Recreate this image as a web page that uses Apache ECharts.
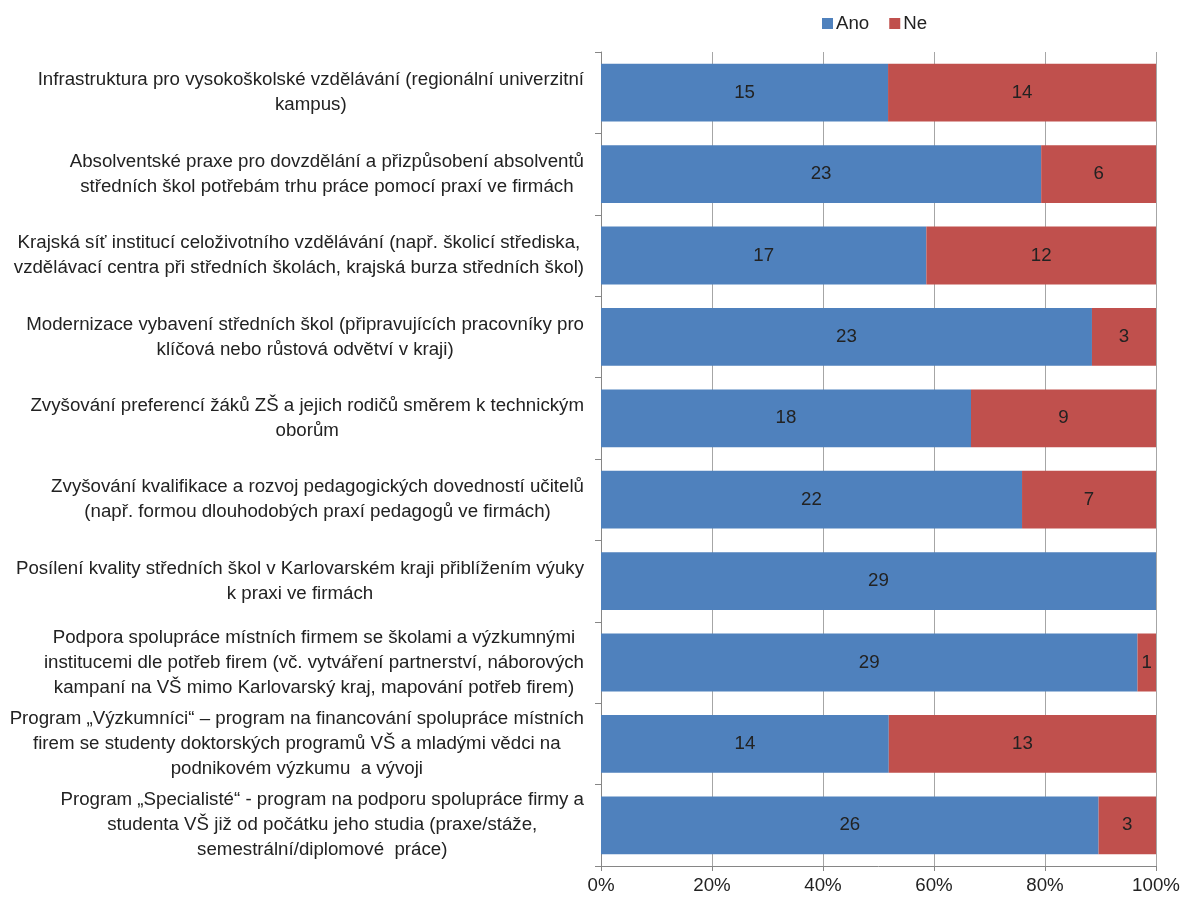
<!DOCTYPE html>
<html>
<head>
<meta charset="utf-8">
<script src="https://cdn.jsdelivr.net/npm/echarts@6/dist/echarts.min.js"></script>
<style>
html,body{margin:0;padding:0;background:#fff;}
#chart{width:1181px;height:901px;}
</style>
</head>
<body>
<div id="chart"></div>
<script>
const categories = [
  "Infrastruktura pro vysokoškolské vzdělávání (regionální univerzitní\nkampus)",
  "Absolventské praxe pro dovzdělání a přizpůsobení absolventů\nstředních škol potřebám trhu práce pomocí praxí ve firmách",
  "Krajská síť institucí celoživotního vzdělávání (např. školicí střediska,\nvzdělávací centra při středních školách, krajská burza středních škol)",
  "Modernizace vybavení středních škol (připravujících pracovníky pro\nklíčová nebo růstová odvětví v kraji)",
  "Zvyšování preferencí žáků ZŠ a jejich rodičů směrem k technickým\noborům",
  "Zvyšování kvalifikace a rozvoj pedagogických dovedností učitelů\n(např. formou dlouhodobých praxí pedagogů ve firmách)",
  "Posílení kvality středních škol v Karlovarském kraji přiblížením výuky\nk praxi ve firmách",
  "Podpora spolupráce místních firmem se školami a výzkumnými\ninstitucemi dle potřeb firem (vč. vytváření partnerství, náborových\nkampaní na VŠ mimo Karlovarský kraj, mapování potřeb firem)",
  "Program „Výzkumníci“ – program na financování spolupráce místních\nfirem se studenty doktorských programů VŠ a mladými vědci na\npodnikovém výzkumu  a vývoji",
  "Program „Specialisté“ - program na podporu spolupráce firmy a\nstudenta VŠ již od počátku jeho studia (praxe/stáže,\nsemestrální/diplomové  práce)"
];
const ano = [15, 23, 17, 23, 18, 22, 29, 29, 14, 26];
const ne  = [14, 6, 12, 3, 9, 7, 0, 1, 13, 3];
const xTicks = [0, 20, 40, 60, 80, 100];

const FONT = "'Liberation Sans', Arial, sans-serif";
const FS = 18.7;
const totals = ano.map((a, i) => a + ne[i]);
const anoPct = ano.map((a, i) => a / totals[i] * 100);
const nePct = ne.map((n, i) => n / totals[i] * 100);

const chart = echarts.init(document.getElementById('chart'), null, {renderer: 'canvas'});
const option = {
  animation: false,
  textStyle: {fontFamily: FONT},
  legend: {
    data: ['Ano', 'Ne'],
    left: 817, top: 9,
    itemWidth: 11, itemHeight: 11, itemGap: 20,
    icon: 'rect',
    textStyle: {fontFamily: FONT, fontSize: FS, color: '#222', padding: [0, 0, 0, -2]}
  },
  grid: {left: 601, right: 25, top: 52, bottom: 35, containLabel: false, outerBoundsMode: 'none'},
  xAxis: {
    type: 'value', min: xTicks[0], max: xTicks[xTicks.length - 1], interval: 20,
    axisLine: {show: true, lineStyle: {color: '#868686'}},
    axisTick: {show: true, length: 5, lineStyle: {color: '#868686'}},
    splitLine: {show: true, lineStyle: {color: '#A6A6A6'}},
    axisLabel: {formatter: '{value}%', fontFamily: FONT, fontSize: FS, color: '#222', margin: 10}
  },
  yAxis: {
    type: 'category', data: categories, inverse: true,
    axisLine: {show: true, lineStyle: {color: '#868686'}},
    axisTick: {show: true, length: 6, lineStyle: {color: '#868686'}},
    axisLabel: {
      align: 'right', margin: 17, color: '#222', fontFamily: FONT, fontSize: FS,
      formatter: function (v) {
        return v.split('\n').map(l => '{c|' + l + '}').join('\n');
      },
      rich: {c: {align: 'center', fontFamily: FONT, fontSize: FS, lineHeight: 25, color: '#222'}}
    }
  },
  series: [
    {
      name: 'Ano', type: 'bar', stack: 'total', data: anoPct, barCategoryGap: '29%',
      itemStyle: {color: '#4F81BD'},
      label: {show: true, position: 'inside', fontFamily: FONT, fontSize: FS, color: '#222',
        formatter: p => ano[p.dataIndex] ? String(ano[p.dataIndex]) : ''}
    },
    {
      name: 'Ne', type: 'bar', stack: 'total', data: nePct, barCategoryGap: '29%',
      itemStyle: {color: '#C0504D'},
      label: {show: true, position: 'inside', fontFamily: FONT, fontSize: FS, color: '#222',
        formatter: p => ne[p.dataIndex] ? String(ne[p.dataIndex]) : ''}
    }
  ]
};
chart.setOption(option);
</script>
</body>
</html>
